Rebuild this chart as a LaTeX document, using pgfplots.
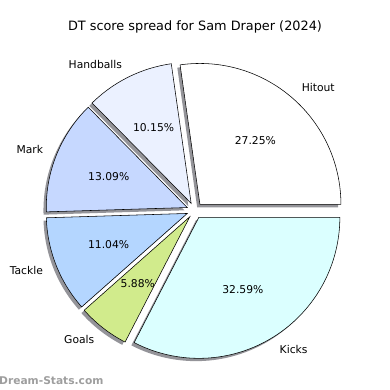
\documentclass[border=0pt]{standalone}
\usepackage{pgfplots}
\usepackage{pgfplotstable}
\pgfplotsset{compat=1.18}
\usepackage{fontspec}
\setmainfont{DejaVu Sans}
\definecolor{cHit}{HTML}{FFFFFF}
\definecolor{cHand}{HTML}{EBF1FF}
\definecolor{cMark}{HTML}{C6D8FF}
\definecolor{cTack}{HTML}{B4D6FF}
\definecolor{cGoal}{HTML}{D1EB8C}
\definecolor{cKick}{HTML}{DBFFFF}
\definecolor{shadowc}{rgb}{0.58,0.58,0.6}
\pgfplotstableread[col sep=comma]{
name,pct,col
Hitout,27.25,cHit
Handballs,10.15,cHand
Mark,13.09,cMark
Tackle,11.04,cTack
Goals,5.88,cGoal
Kicks,32.59,cKick
}\piedata
\def\CX{194.7}
\def\CY{179.5}
\def\R{141}
\def\EX{8}
\begin{document}
\begin{tikzpicture}
\path[use as bounding box] (0,0) rectangle (390bp,390bp);
\begin{axis}[
  at={(0,0)}, anchor=south west,
  scale only axis, width=390bp, height=390bp,
  xmin=0, xmax=390, ymin=0, ymax=390,
  hide axis, clip=false,
]
\pgfplotsextra{
  % shadows
  \xdef\cum{0}
  \foreach \i in {0,...,5}{
    \pgfplotstablegetelem{\i}{pct}\of\piedata \let\p\pgfplotsretval
    \pgfmathsetmacro\a{\cum*3.6}
    \pgfmathsetmacro\b{(\cum+\p)*3.6}
    \pgfmathsetmacro\m{(\a+\b)/2}
    \pgfmathsetmacro\cx{\CX+\EX*cos(\m)-2.8}
    \pgfmathsetmacro\cy{\CY+\EX*sin(\m)-2.8}
    \fill[shadowc] (axis cs:\cx,\cy) -- plot[domain=\a:\b,samples=80,variable=\t] (axis cs:{\cx+\R*cos(\t)},{\cy+\R*sin(\t)}) -- cycle;
    \pgfmathsetmacro\newcum{\cum+\p}
    \xdef\cum{\newcum}
  }
  % wedges and labels
  \xdef\cum{0}
  \foreach \i in {0,...,5}{
    \pgfplotstablegetelem{\i}{pct}\of\piedata \let\p\pgfplotsretval
    \pgfplotstablegetelem{\i}{name}\of\piedata \let\nm\pgfplotsretval
    \pgfplotstablegetelem{\i}{col}\of\piedata \let\cl\pgfplotsretval
    \pgfmathsetmacro\a{\cum*3.6}
    \pgfmathsetmacro\b{(\cum+\p)*3.6}
    \pgfmathsetmacro\m{(\a+\b)/2}
    \pgfmathsetmacro\cx{\CX+\EX*cos(\m)}
    \pgfmathsetmacro\cy{\CY+\EX*sin(\m)}
    \fill[fill=\cl, draw=black, line width=0.55pt, line join=miter] (axis cs:\cx,\cy) -- plot[domain=\a:\b,samples=80,variable=\t] (axis cs:{\cx+\R*cos(\t)},{\cy+\R*sin(\t)}) -- cycle;
    \pgfmathsetmacro\lx{\cx+1.1*\R*cos(\m)}
    \pgfmathsetmacro\ly{\cy+1.1*\R*sin(\m)}
    \pgfmathsetmacro\px{\cx+0.6*\R*cos(\m)}
    \pgfmathsetmacro\py{\cy+0.6*\R*sin(\m)}
    \pgfmathparse{cos(\m)>0?1:0}
    \ifnum\pgfmathresult=1
      \node[anchor=west, inner sep=0pt, font=\fontsize{10.8}{12}\selectfont] at (axis cs:\lx,\ly) {\nm};
    \else
      \node[anchor=east, inner sep=0pt, font=\fontsize{10.8}{12}\selectfont] at (axis cs:\lx,\ly) {\nm};
    \fi
    \node[inner sep=0pt, font=\fontsize{10.8}{12}\selectfont] at (axis cs:\px,\py) {\p\%};
    \pgfmathsetmacro\newcum{\cum+\p}
    \xdef\cum{\newcum}
  }
}
\node[anchor=base, inner sep=0pt, font=\fontsize{12.9}{14}\selectfont] at (axis cs:195,360) {DT score spread for Sam Draper (2024)};
\node[anchor=base west, inner sep=0pt, text=black!38, font=\fontsize{10.7}{12}\bfseries] at (axis cs:-1,6) {Dream-Stats.com};
\end{axis}
\end{tikzpicture}
\end{document}
